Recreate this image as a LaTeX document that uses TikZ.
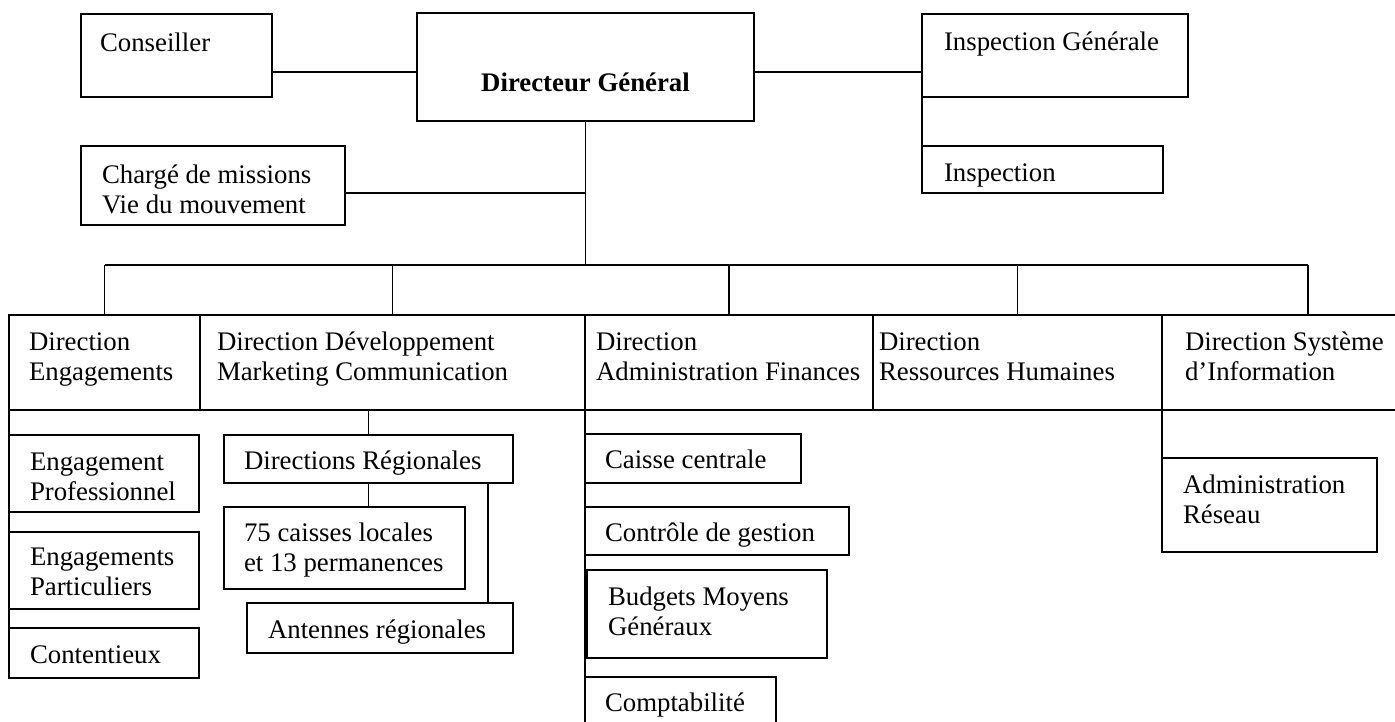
\documentclass[tikz,border=0pt]{standalone}
\usepackage{fontspec}
\setmainfont{Liberation Serif}
\usetikzlibrary{calc}
\tikzset{
  obx/.style={draw, line width=1.4pt, inner sep=0pt, outer sep=0pt, rectangle},
  otx/.style={inner sep=0pt, outer sep=0pt, anchor=base west, font=\fontsize{26.8}{30}\selectfont},
  lnk/.style={line width=1.4pt},
}
\newcommand\obox[8]{%
  \node[obx, minimum width={(#4-#2)*1pt}, minimum height={(#5-#3)*1pt}] (#1) at ({(#2+#4)/2},{(#3+#5)/2}) {};
  \node[otx] (#1-t) at (#6,#7) {\begin{tabular}[t]{@{}l@{}}#8\end{tabular}};}
\begin{document}
\begin{tikzpicture}[x=1pt,y=-1pt]
\useasboundingbox (0,0) rectangle (1395,721);
% top level
\obox{cons}{81}{14}{272}{97}{100}{51}{Conseiller}
\node[obx, minimum width=337pt, minimum height=108pt] (dg) at (585.5,67) {};
\node[otx, anchor=base, font=\fontsize{26.8}{30}\selectfont\bfseries] (dg-t) at (585.5,91) {Directeur Général};
\obox{ig}{922}{14}{1188}{97}{944}{50}{Inspection Générale}
\obox{insp}{922}{146}{1163}{193}{944}{181}{Inspection}
\obox{chm}{81}{146}{345}{225}{102}{183}{Chargé de missions\\Vie du mouvement}
% directions
\obox{de}{9}{315}{200}{410}{29}{350}{Direction\\Engagements}
\obox{ddmc}{200}{315}{585}{410}{217}{350}{Direction Développement\\Marketing Communication}
\obox{daf}{585}{315}{873}{410}{596}{350}{Direction\\Administration Finances}
\obox{drh}{873}{315}{1162}{410}{879}{350}{Direction\\Ressources Humaines}
\obox{dsi}{1162}{315}{1398}{410}{1185}{350}{Direction Système\\d’Information}
% engagements column
\obox{ep}{9}{435}{199}{512}{30}{470}{Engagement\\Professionnel}
\obox{epa}{9}{532}{199}{609}{30}{565}{Engagements\\Particuliers}
\obox{cont}{9}{628}{199}{678}{30}{663}{Contentieux}
% developpement column
\obox{dr}{224}{435}{513}{483}{244}{469}{Directions Régionales}
\obox{cl}{224}{507}{465}{589}{244}{541}{75 caisses locales\\et 13 permanences}
\obox{ant}{247}{603}{513}{653}{268}{638}{Antennes régionales}
% finances column
\obox{cc}{585}{434}{801}{483}{605}{468}{Caisse centrale}
\obox{cg}{585}{507}{849}{555}{605}{541}{Contrôle de gestion}
\obox{bmg}{587}{570}{827}{658}{608}{605}{Budgets Moyens\\Généraux}
\obox{cpt}{585}{677}{776}{724}{605}{711}{Comptabilité}
% systeme d'information
\obox{ar}{1162}{458}{1377}{552}{1183}{493}{Administration\\Réseau}
% connectors
\coordinate (busR) at (1308,265);
\coordinate (dafEnd) at (585,724);
\draw[lnk] (cons.east |- 0,72) -- (dg.west |- 0,72);
\draw[lnk] (dg.east |- 0,72) -- (ig.west |- 0,72);
\draw[lnk] (ig.south west) -- (insp.north west);
\draw[lnk] (dg.south) -- (dg.south |- busR);
\draw[lnk] (chm.east |- 0,193) -- (dg.south |- 0,193);
\draw[lnk] (de.north |- busR) -- (busR);
\draw[lnk] (de.north |- busR) -- (de.north);
\draw[lnk] (ddmc.north |- busR) -- (ddmc.north);
\draw[lnk] (daf.north |- busR) -- (daf.north);
\draw[lnk] (drh.north |- busR) -- (drh.north);
\draw[lnk] (busR) -- (busR |- dsi.north);
\draw[lnk] (de.south west) -- (cont.south west);
\draw[lnk] (dr.north |- ddmc.south) -- (dr.north);
\draw[lnk] (dr.south) -- (dr.south |- cl.north);
\draw[lnk] (dr.south -| 488,0) -- (ant.north -| 488,0);
\draw[lnk] (daf.south west) -- (dafEnd);
\draw[lnk] (dsi.south west) -- (ar.north west);
\end{tikzpicture}
\end{document}
